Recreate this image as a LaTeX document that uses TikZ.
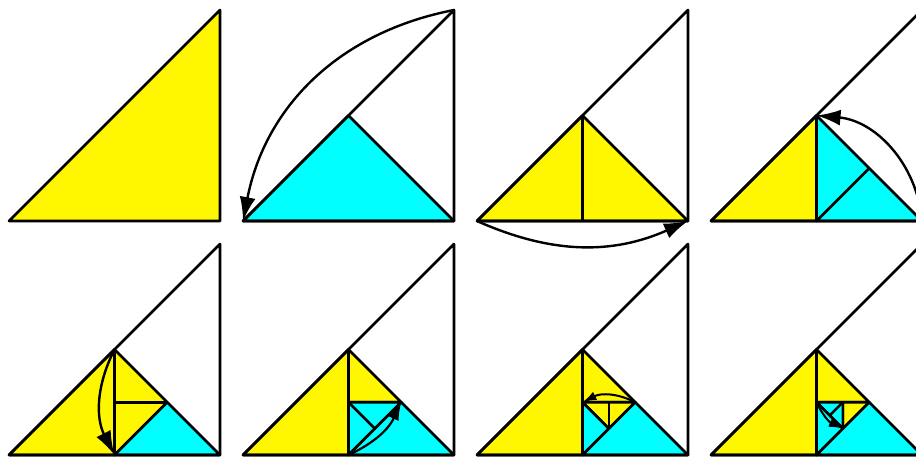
\documentclass[tikz,border=0pt]{standalone}
\usetikzlibrary{arrows.meta}
\definecolor{fy}{RGB}{255,247,0}
\definecolor{fc}{RGB}{0,255,255}
\tikzset{
  edge/.style={draw=black,line width=2.6pt,line join=round},
  ypart/.style={edge,fill=fy},
  cpart/.style={edge,fill=fc},
  outline/.style={edge},
  arrbig/.style={draw=black,line width=2.4pt,-{Latex[length=24pt,width=16pt]}},
  arrmid/.style={draw=black,line width=2.2pt,-{Latex[length=18pt,width=11pt]}},
  arrsmall/.style={draw=black,line width=2pt,-{Latex[length=14pt,width=9pt]}}
}
\newcommand\mkpts[1]{%
  \coordinate (#1A) at (0,0);
  \coordinate (#1B) at (211,0);
  \coordinate (#1C) at (211,211);
  \coordinate (#1M) at (105.5,105.5);
  \coordinate (#1D) at (105.5,0);
  \coordinate (#1E) at (158.25,52.75);
  \coordinate (#1F) at (105.5,52.75);
  \coordinate (#1G) at (131.875,26.375);
  \coordinate (#1H) at (131.875,52.75);
  \coordinate (#1K) at (118.6875,39.5625);
}
\begin{document}
\begin{tikzpicture}[x=1pt,y=1pt]
\useasboundingbox (0,0) rectangle (916,456);
\clip (0,0) rectangle (916,456);
% panel 1
\begin{scope}[shift={(9,235)}]
  \mkpts{a}
  \path[ypart] (aA)--(aB)--(aC)--cycle;
\end{scope}
% panel 2
\begin{scope}[shift={(243,235)}]
  \mkpts{b}
  \path[cpart] (bA)--(bB)--(bM)--cycle;
  \path[outline] (bA)--(bB)--(bC)--cycle;
  \draw[arrbig] (bC) to[bend right=34] (bA);
\end{scope}
% panel 3
\begin{scope}[shift={(477,235)}]
  \mkpts{c}
  \path[ypart] (cA)--(cB)--(cM)--cycle;
  \path[outline] (cA)--(cB)--(cC)--cycle;
  \path[edge] (cM)--(cD);
  \draw[arrbig] (cA) to[bend right=24] (cB);
\end{scope}
% panel 4
\begin{scope}[shift={(711,235)}]
  \mkpts{d}
  \path[ypart] (dA)--(dD)--(dM)--cycle;
  \path[cpart] (dD)--(dB)--(dM)--cycle;
  \path[edge] (dD)--(dE);
  \path[outline] (dA)--(dB)--(dC)--cycle;
  \draw[arrbig] (dB) to[bend right=40] (dM);
\end{scope}
% panel 5
\begin{scope}[shift={(9,1)}]
  \mkpts{e}
  \path[ypart] (eA)--(eD)--(eM)--cycle;
  \path[ypart] (eD)--(eE)--(eM)--cycle;
  \path[cpart] (eD)--(eB)--(eE)--cycle;
  \path[edge] (eF)--(eE);
  \path[outline] (eA)--(eB)--(eC)--cycle;
  \draw[arrbig] (eM) to[bend right=27] (eD);
\end{scope}
% panel 6
\begin{scope}[shift={(243,1)}]
  \mkpts{f}
  \path[ypart] (fA)--(fD)--(fM)--cycle;
  \path[ypart] (fM)--(fE)--(fF)--cycle;
  \path[cpart] (fF)--(fE)--(fD)--cycle;
  \path[cpart] (fD)--(fB)--(fE)--cycle;
  \path[edge] (fF)--(fG);
  \path[outline] (fA)--(fB)--(fC)--cycle;
  \draw[arrmid] (fD) to[bend right=20] (fE);
\end{scope}
% panel 7
\begin{scope}[shift={(477,1)}]
  \mkpts{g}
  \path[ypart] (gA)--(gD)--(gM)--cycle;
  \path[ypart] (gM)--(gE)--(gF)--cycle;
  \path[ypart] (gF)--(gE)--(gG)--cycle;
  \path[cpart] (gF)--(gG)--(gD)--cycle;
  \path[cpart] (gD)--(gB)--(gE)--cycle;
  \path[edge] (gH)--(gG);
  \path[outline] (gA)--(gB)--(gC)--cycle;
  \draw[arrsmall] (gE) to[bend right=27] (gF);
\end{scope}
% panel 8
\begin{scope}[shift={(711,1)}]
  \mkpts{h}
  \path[ypart] (hA)--(hD)--(hM)--cycle;
  \path[ypart] (hM)--(hE)--(hF)--cycle;
  \path[ypart] (hH)--(hE)--(hG)--cycle;
  \path[cpart] (hF)--(hH)--(hG)--cycle;
  \path[cpart] (hF)--(hG)--(hD)--cycle;
  \path[cpart] (hD)--(hB)--(hE)--cycle;
  \path[edge] (hH)--(hK);
  \path[outline] (hA)--(hB)--(hC)--cycle;
  \draw[arrsmall] (hF) to[bend right=20] (hG);
\end{scope}
\end{tikzpicture}
\end{document}
